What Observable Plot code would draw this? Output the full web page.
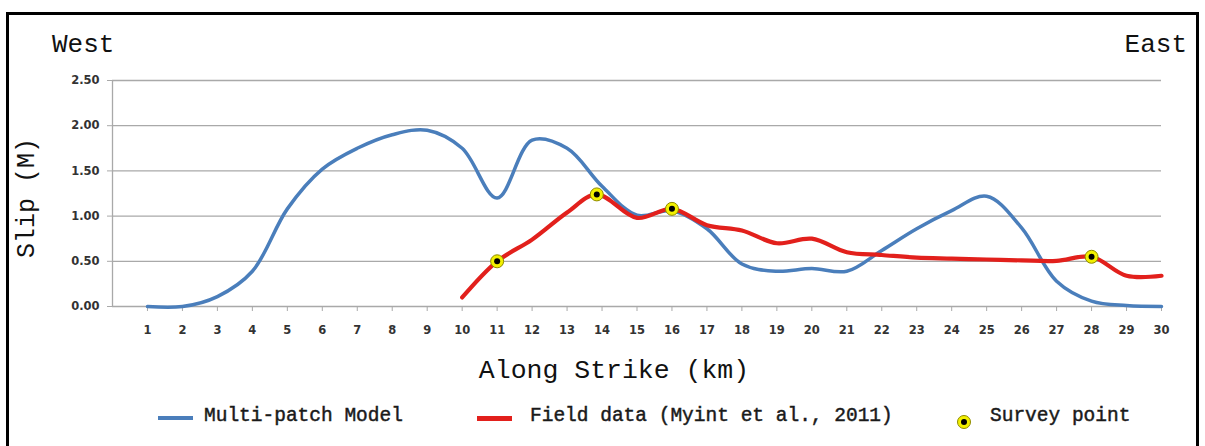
<!DOCTYPE html>
<html>
<head>
<meta charset="utf-8">
<script src="https://cdn.jsdelivr.net/npm/d3@7"></script>
<script src="https://cdn.jsdelivr.net/npm/@observablehq/plot@0.6"></script>
<style>
  body { margin: 0; background: #fff; }
  #wrap { position: relative; width: 1205px; height: 446px; overflow: hidden; background: #fff; }
  #frame { position: absolute; left: 6px; top: 12px; width: 1193px; height: 470px; border: 3px solid #000; box-sizing: border-box; }
  #chart { position: absolute; left: 0; top: 0; }
  #chart svg text { font-family: "DejaVu Sans", sans-serif !important; font-weight: bold !important; font-size: 11.5px !important; }
  .mono { position: absolute; font-family: "Liberation Mono", "Courier New", Courier, monospace; color: #111; white-space: nowrap; }
  .side { font-size: 26px; line-height: 26px; top: 32px; }
  #ylab { font-size: 25px; line-height: 25px; left: 27px; top: 197.5px; transform: translate(-50%, -50%) rotate(-90deg); }
  #xlab { font-size: 26.5px; line-height: 26.5px; top: 357.5px; left: 614px; transform: translateX(-50%); }
  .leg { font-size: 19.5px; line-height: 19.5px; top: 406.5px; color: #1a1a1a; -webkit-text-stroke: 0.45px #1a1a1a; }
  .swatch { position: absolute; height: 4px; width: 35px; }
</style>
</head>
<body>
<div id="wrap">
  <div id="frame"></div>
  <div id="chart"></div>
  <div class="mono side" style="left:52px">West</div>
  <div class="mono side" style="right:18px">East</div>
  <div class="mono" id="ylab">Slip (M)</div>
  <div class="mono" id="xlab">Along Strike (km)</div>
  <div class="swatch" style="left:158px;top:416px;background:#4a7ebb"></div>
  <div class="mono leg" style="left:204px">Multi-patch Model</div>
  <div class="swatch" style="left:477px;top:416px;background:#e2201c;height:4.5px"></div>
  <div class="mono leg" style="left:530px">Field data (Myint et al., 2011)</div>
  <svg style="position:absolute;left:955px;top:413px" width="18" height="18">
    <circle cx="9" cy="9" r="6.5" fill="#f2f000" stroke="#8f8a00" stroke-width="1"></circle>
    <circle cx="9" cy="9" r="3" fill="#000"></circle>
  </svg>
  <div class="mono leg" style="left:990px">Survey point</div>
</div>
<script>
// Distance along strike (km) for the model profile
const km = d3.range(1, 31);
// Multi-patch model slip (m) at each km
const modelSlip = [0.00, 0.00, 0.11, 0.39, 1.08, 1.52, 1.75, 1.90, 1.95, 1.75,
                   1.20, 1.84, 1.75, 1.33, 1.01, 1.06, 0.86, 0.47, 0.39, 0.42,
                   0.39, 0.62, 0.86, 1.06, 1.22, 0.87, 0.28, 0.06, 0.01, 0.00];

// Field measurements (Myint et al., 2011)
const fieldKm   = [10, 11, 12, 13, 13.85, 15, 16, 17, 18, 19, 20, 21, 22, 23, 24, 25, 26, 27, 28, 29, 30];
const fieldSlip = [0.10, 0.50, 0.74, 1.04, 1.24, 0.98, 1.08, 0.90, 0.84, 0.70, 0.75,
                   0.60, 0.57, 0.54, 0.53, 0.52, 0.51, 0.505, 0.55, 0.34, 0.34];

// Survey points along the rupture
const surveyKm   = [11, 13.85, 16, 28];
const surveySlip = [0.50, 1.24, 1.08, 0.55];

// Axis ticks
const xTicks = d3.range(1, 31);
const yTicks = [0, 0.5, 1, 1.5, 2, 2.5];

const model  = km.map((k, i) => ({km: k, slip: modelSlip[i]}));
const field  = fieldKm.map((k, i) => ({km: k, slip: fieldSlip[i]}));
const survey = surveyKm.map((k, i) => ({km: k, slip: surveySlip[i]}));

const grey = "#a9a9a9";

const chart = Plot.plot({
  width: 1205,
  height: 446,
  marginLeft: 112,
  marginRight: 44,
  marginTop: 80,
  marginBottom: 140,
  style: {
    background: "transparent",
    color: "#333"
  },
  x: {domain: [0, 30]},
  y: {domain: [0, 2.5]},
  marks: [
    Plot.gridY(yTicks, {stroke: grey, strokeOpacity: 1, strokeWidth: 1.3}),
    Plot.ruleX([0], {stroke: grey, strokeWidth: 1.3}),
    Plot.axisY(yTicks, {
      tickSize: 5, tickPadding: 8, tickFormat: d3.format(".2f"),
      stroke: grey, fill: "#333", label: null
    }),
    Plot.axisX(xTicks, {
      tickSize: 5, tickPadding: 14, tickFormat: d => d,
      stroke: grey, fill: "#333", label: null
    }),
    Plot.line(model, {x: "km", y: "slip", stroke: "#4a7ebb", strokeWidth: 3.5, curve: "catmull-rom"}),
    Plot.line(field, {x: "km", y: "slip", stroke: "#e2201c", strokeWidth: 4.2, curve: "catmull-rom"}),
    Plot.dot(survey, {x: "km", y: "slip", r: 6.5, fill: "#f2f000", stroke: "#8f8a00", strokeWidth: 1}),
    Plot.dot(survey, {x: "km", y: "slip", r: 3, fill: "#000"})
  ]
});

document.getElementById("chart").appendChild(chart);
</script>
</body>
</html>
